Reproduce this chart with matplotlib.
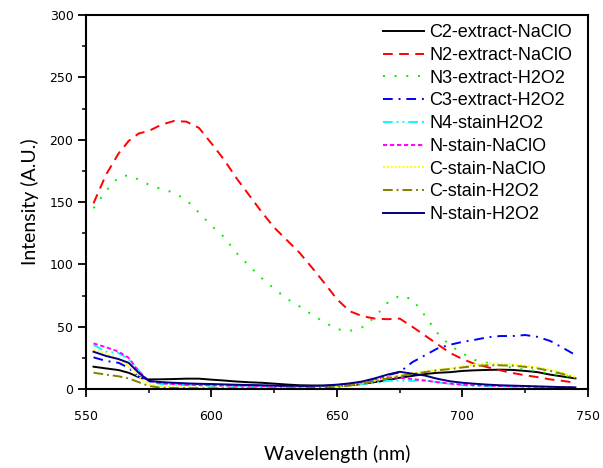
import matplotlib
matplotlib.use("Agg")
import matplotlib.pyplot as plt
from matplotlib.ticker import MultipleLocator

# emission spectra, intensity vs wavelength
wavelength = [553, 558, 563, 567, 571, 575, 580, 585, 590, 595, 600, 605, 610, 615,
              620, 625, 630, 635, 640, 645, 650, 655, 660, 665, 670, 675, 680, 685,
              690, 695, 700, 705, 710, 715, 720, 725, 730, 735, 740, 745]

c2_extract_naclo = [17.9, 16.5, 15.2, 13.0, 9.5, 7.7, 7.8, 8.0, 8.3, 8.3, 7.5, 6.8, 6.0, 5.4,
                    5.0, 4.3, 3.6, 3.0, 2.8, 2.6, 2.5, 3.0, 4.0, 5.5, 7.0, 9.0, 10.5, 12.0,
                    13.0, 13.5, 14.5, 15.0, 15.3, 15.5, 15.3, 14.5, 13.5, 11.5, 10.0, 8.5]
n2_extract_naclo = [149, 172, 189, 199, 205, 207, 212, 215, 214.5, 209.5, 197, 184, 169, 155.5,
                    142, 129.5, 119.5, 109.5, 97.5, 85, 72, 62.5, 58.5, 56.5, 56, 56.5, 50, 43,
                    36, 29, 24, 20, 17.5, 15, 12.8, 11, 9.5, 7.7, 6.5, 5]
n3_extract_h2o2 = [145, 159, 170, 171.5, 168, 164, 160.5, 157.5, 151.6, 141.5, 131, 122, 109, 98.8,
                   89, 80.5, 72.4, 66.4, 59.7, 53.5, 48, 46.5, 49.5, 57.5, 69, 75, 72, 59,
                   45, 35, 28.6, 23.3, 21, 19, 17, 15.5, 14.3, 12.3, 10.8, 9.3]
c3_extract_h2o2 = [25.4, 22.5, 21.0, 17.0, 10.0, 6.0, 5.0, 4.5, 4.0, 4.0, 3.5, 3.2, 3.0, 2.8,
                   2.6, 2.4, 2.3, 2.2, 2.2, 2.5, 3.0, 4.0, 5.5, 8.0, 11.0, 13.5, 21.5, 27.0,
                   32.5, 35.5, 37.8, 39.5, 41.5, 42.5, 42.5, 43.3, 41.8, 38.5, 33.0, 27.3]
n4_stain_h2o2 = [35.3, 30.0, 28.8, 24.0, 15.0, 6.0, 4.0, 3.5, 3.0, 2.8, 2.5, 2.3, 2.2, 2.0,
                 2.0, 1.9, 1.8, 1.8, 1.9, 2.0, 2.3, 3.0, 4.0, 5.0, 6.5, 6.8, 6.5, 6.8,
                 5.5, 4.0, 3.0, 2.5, 2.2, 2.0, 1.8, 1.6, 1.4, 1.2, 1.1, 1.0]
n_stain_naclo = [36.6, 33.5, 30.0, 25.0, 14.0, 6.5, 4.5, 4.0, 3.5, 3.2, 3.0, 2.8, 2.6, 2.5,
                 2.4, 2.3, 2.2, 2.2, 2.3, 2.5, 3.0, 4.0, 5.5, 7.5, 9.5, 9.0, 8.0, 6.8,
                 5.5, 4.3, 3.5, 3.0, 2.7, 2.4, 2.2, 2.0, 1.8, 1.6, 1.5, 1.3]
c_stain_naclo = [31.3, 28.5, 24.0, 18.0, 10.0, 4.0, 2.0, 1.5, 1.3, 1.2, 1.1, 1.0, 1.0, 1.0,
                 1.0, 1.0, 1.0, 1.0, 1.1, 1.3, 1.8, 3.0, 4.5, 6.5, 9.0, 11.0, 12.5, 14.0,
                 15.5, 16.5, 18.0, 19.8, 20.5, 20.3, 19.8, 18.8, 17.3, 15.5, 13.0, 9.5]
c_stain_h2o2 = [13.1, 11.5, 10.2, 8.5, 5.5, 2.4, 1.0, 0.8, 0.7, 0.6, 0.6, 0.6, 0.6, 0.6,
                0.6, 0.6, 0.6, 0.7, 0.8, 1.1, 1.6, 2.8, 4.2, 6.2, 8.5, 10.5, 12.0, 13.5,
                15.0, 16.0, 17.3, 18.5, 19.0, 19.0, 18.7, 17.8, 16.5, 14.5, 12.0, 8.5]
n_stain_h2o2 = [29.9, 26.5, 24.0, 21.0, 13.0, 6.5, 5.5, 5.0, 4.5, 4.2, 4.0, 3.7, 3.4, 3.2,
                3.0, 2.8, 2.6, 2.5, 2.5, 2.8, 3.5, 4.5, 6.0, 8.5, 11.5, 13.8, 12.3, 10.8,
                8.2, 6.2, 5.0, 4.2, 3.5, 3.0, 2.7, 2.4, 2.1, 1.8, 1.5, 1.3]

labels = ["C2-extract-NaClO", "N2-extract-NaClO", "N3-extract-H2O2", "C3-extract-H2O2",
          "N4-stainH2O2", "N-stain-NaClO", "C-stain-NaClO", "C-stain-H2O2", "N-stain-H2O2"]
series = [c2_extract_naclo, n2_extract_naclo, n3_extract_h2o2, c3_extract_h2o2,
          n4_stain_h2o2, n_stain_naclo, c_stain_naclo, c_stain_h2o2, n_stain_h2o2]
colors = ["#000000", "#ff0000", "#00ee00", "#0000ff", "#00ffff",
          "#ff00ff", "#ffff00", "#808000", "#000080"]
styles = ["-", (0, (5, 3.3)), (0, (1, 5)), (0, (5, 3, 1, 3)), (0, (5, 2, 1, 2, 1, 2)),
          (0, (2.2, 1.4)), (0, (1, 1)), (0, (5, 2, 1, 2)), "-"]


def main():
    fig = plt.figure(figsize=(6.03, 4.68), dpi=100)
    ax = fig.add_axes([0.1426, 0.1688, 0.8325, 0.799])

    for vals, lab, col, ls in zip(series, labels, colors, styles):
        ax.plot(wavelength, vals, color=col, linestyle=ls, linewidth=1.4, label=lab)

    ax.set_xlim(550, 750)
    ax.set_ylim(0, 300)
    ax.xaxis.set_major_locator(MultipleLocator(50))
    ax.xaxis.set_minor_locator(MultipleLocator(25))
    ax.yaxis.set_major_locator(MultipleLocator(50))
    ax.yaxis.set_minor_locator(MultipleLocator(25))
    ax.tick_params(which="major", direction="out", length=6, width=1.3,
                   labelsize=9, top=False, right=False)
    ax.tick_params(which="minor", direction="out", length=3, width=1.1,
                   top=False, right=False)
    ax.tick_params(axis="x", which="major", pad=9)
    ax.tick_params(axis="y", which="major", pad=3)
    for sp in ax.spines.values():
        sp.set_linewidth(1.5)

    ax.set_xlabel("Wavelength (nm)", family="Lato", fontsize=14, labelpad=16)
    ax.set_ylabel("Intensity (A.U.)", family="Lato", fontsize=14, labelpad=8)

    ax.legend(loc="upper left", bbox_to_anchor=(0.5916, 0.976), frameon=False,
              prop={"family": "Liberation Sans", "size": 13},
              handlelength=2.3, handletextpad=0.28, labelspacing=0.32,
              borderpad=0, borderaxespad=0)

    fig.savefig("out.png", dpi=100)
    plt.close(fig)


if __name__ == "__main__":
    main()
